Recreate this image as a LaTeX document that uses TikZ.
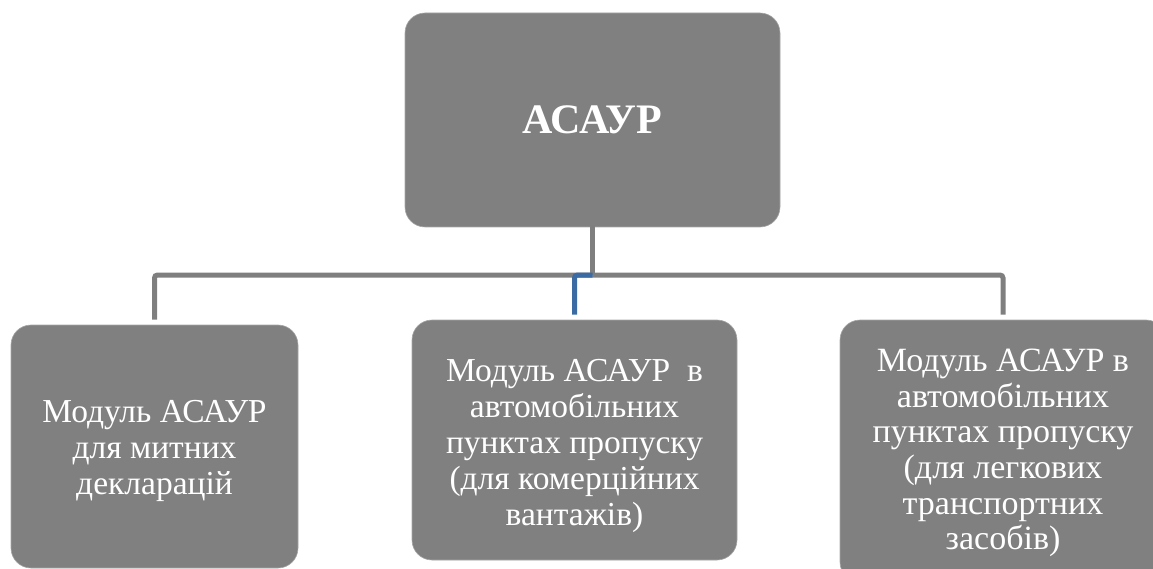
\documentclass[tikz,border=0pt]{standalone}
\usepackage{fontspec}
\setmainfont{Liberation Serif}
\definecolor{boxgray}{HTML}{808080}
\definecolor{linegray}{HTML}{7F7F7F}
\definecolor{lineblue}{HTML}{3A6BA3}
\begin{document}
\begin{tikzpicture}[x=1pt,y=-1pt,
  modbox/.style={fill=boxgray, draw=boxgray!70!white, line width=0.6pt, rounded corners=20pt,
    inner sep=0pt},
  modtext/.style={text=white, align=center, inner sep=0pt, font=\fontsize{33.5}{36}\selectfont},
  conn/.style={draw=linegray, line width=5pt, rounded corners=3pt, shorten >=5pt},
  connblue/.style={draw=lineblue, line width=5pt, rounded corners=3pt, shorten >=5pt}]
\useasboundingbox (0,0) rectangle (1153,569);
\node[modbox, minimum width=375pt, minimum height=214pt] (top) at (592.5,120) {};
\node[modtext, font=\bfseries\fontsize{42}{48}\selectfont] (toplbl) at (top.center) {АСАУР};
\node[modbox, minimum width=287pt, minimum height=243pt] (left) at (154.5,446.5) {};
\node[modtext] (leftlbl) at ([yshift=-4pt]left.center)
  {Модуль АСАУР\\для митних\\декларацій};
\node[modbox, minimum width=325pt, minimum height=240pt] (mid) at (574.5,440) {};
\node[modtext] (midlbl) at ([yshift=-6pt]mid.center)
  {Модуль АСАУР~ в\\автомобільних\\пунктах пропуску\\(для комерційних\\вантажів)};
\node[modbox, minimum width=326pt, minimum height=262pt] (right) at (1003,451) {};
\node[modtext, font=\fontsize{34}{35.6}\selectfont] (rightlbl) at ([yshift=-2pt]right.center)
  {Модуль АСАУР в\\автомобільних\\пунктах пропуску\\(для легкових\\транспортних\\засобів)};
\coordinate (hub) at (top.south |- 0,275);
\draw[conn, shorten >=0pt] ([yshift=2pt]top.south) -- (hub);
\draw[conn] (hub) -| (left.north);
\draw[conn] (hub) -| (right.north);
\draw[connblue] (hub) -| (mid.north);
\end{tikzpicture}
\end{document}
